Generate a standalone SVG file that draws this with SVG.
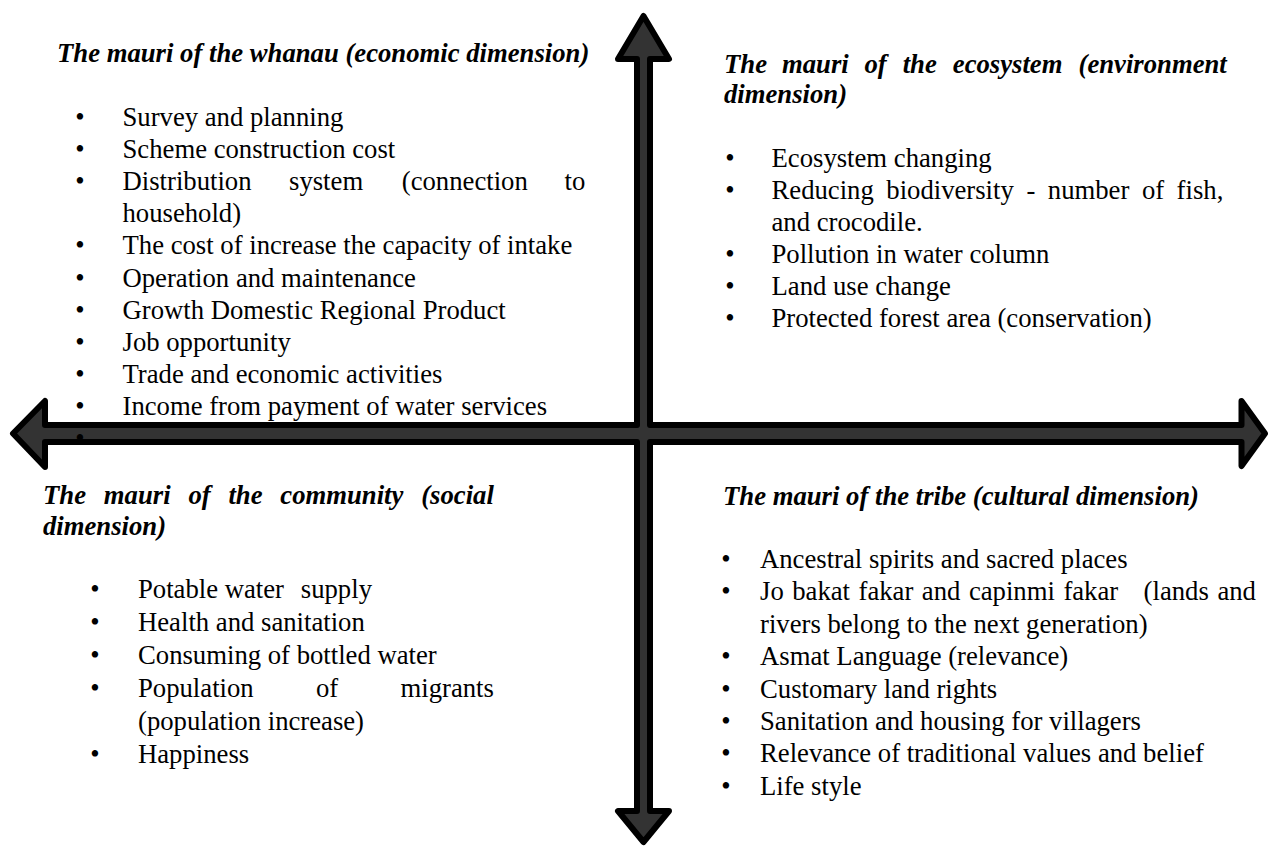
<svg xmlns="http://www.w3.org/2000/svg" width="1269" height="847" viewBox="0 0 1269 847">
  <style>
    .title { font-family: "Liberation Serif", "Times New Roman", serif; font-size: 26.7px; font-weight: bold; font-style: italic; fill: #000; }
    .item { font-family: "Liberation Serif", "Times New Roman", serif; font-size: 26.7px; fill: #000; }
    .dot { font-family: "Liberation Serif", "Times New Roman", serif; font-size: 26.7px; fill: #000; text-anchor: middle; }
    .axis { fill: #333333; stroke: #000; stroke-width: 6; stroke-linejoin: round; }
  </style>
  <rect x="0" y="0" width="1269" height="847" fill="#fff"/>

  <!-- four-way cross of arrows dividing the quadrants -->
  <g id="connectors">
    <path class="axis" d="M 643.5 16 L 669 59 L 650 59 L 650 425 L 1241.5 425 L 1241.5 401 L 1265 433.5 L 1241.5 466 L 1241.5 442 L 650 442 L 650 811 L 669 811 L 643.5 842 L 618 811 L 637 811 L 637 442 L 45 442 L 45 467 L 13 433.5 L 45 401 L 45 425 L 637 425 L 637 59 L 618 59 Z"/>
  </g>

  <!-- top-left: economic dimension -->
  <g id="whanau">
    <text class="title" x="57" y="62">The mauri of the whanau (economic dimension)</text>
    <text class="dot" x="80" y="126">•</text><text class="item" x="122.5" y="126">Survey and planning</text>
    <text class="dot" x="80" y="158.1">•</text><text class="item" x="122.5" y="158.1">Scheme construction cost</text>
    <text class="dot" x="80" y="190.2">•</text><text class="item" y="190.2"><tspan x="122.5">Distribution</tspan><tspan x="289">system</tspan><tspan x="401.8">(connection</tspan><tspan x="564.5">to</tspan></text>
    <text class="item" x="122.5" y="222.3">household)</text>
    <text class="dot" x="80" y="254.4">•</text><text class="item" x="122.5" y="254.4">The cost of increase the capacity of intake</text>
    <text class="dot" x="80" y="286.5">•</text><text class="item" x="122.5" y="286.5">Operation and maintenance</text>
    <text class="dot" x="80" y="318.6">•</text><text class="item" x="122.5" y="318.6">Growth Domestic Regional Product</text>
    <text class="dot" x="80" y="350.7">•</text><text class="item" x="122.5" y="350.7">Job opportunity</text>
    <text class="dot" x="80" y="382.8">•</text><text class="item" x="122.5" y="382.8">Trade and economic activities</text>
    <text class="dot" x="80" y="414.9">•</text><text class="item" x="122.5" y="414.9">Income from payment of water services</text>
    <text class="dot" x="80" y="447">•</text>
  </g>

  <!-- top-right: environment dimension -->
  <g id="ecosystem">
    <text class="title" y="73"><tspan x="724">The</tspan><tspan x="782">mauri</tspan><tspan x="864.5">of</tspan><tspan x="902.7">the</tspan><tspan x="952.8">ecosystem</tspan><tspan x="1078.5">(environment</tspan></text>
    <text class="title" x="724" y="103">dimension)</text>
    <text class="dot" x="730" y="167">•</text><text class="item" x="771.5" y="167">Ecosystem changing</text>
    <text class="dot" x="730" y="199">•</text><text class="item" y="199"><tspan x="771.5">Reducing</tspan><tspan x="886.3">biodiversity</tspan><tspan x="1026.4">-</tspan><tspan x="1047.8">number</tspan><tspan x="1141.9">of</tspan><tspan x="1176.6">fish,</tspan></text>
    <text class="item" x="771.5" y="231">and crocodile.</text>
    <text class="dot" x="730" y="263">•</text><text class="item" x="771.5" y="263">Pollution in water column</text>
    <text class="dot" x="730" y="295">•</text><text class="item" x="771.5" y="295">Land use change</text>
    <text class="dot" x="730" y="327">•</text><text class="item" x="771.5" y="327">Protected forest area (conservation)</text>
  </g>

  <!-- bottom-left: social dimension -->
  <g id="community">
    <text class="title" y="504"><tspan x="43">The</tspan><tspan x="103.8">mauri</tspan><tspan x="188.4">of</tspan><tspan x="228.4">the</tspan><tspan x="280.3">community</tspan><tspan x="421.2">(social</tspan></text>
    <text class="title" x="43" y="535">dimension)</text>
    <text class="dot" x="95" y="598">•</text><text class="item" y="598"><tspan x="138">Potable water</tspan><tspan x="300.8">supply</tspan></text>
    <text class="dot" x="95" y="631">•</text><text class="item" x="138" y="631">Health and sanitation</text>
    <text class="dot" x="95" y="664">•</text><text class="item" x="138" y="664">Consuming of bottled water</text>
    <text class="dot" x="95" y="697">•</text><text class="item" y="697"><tspan x="138">Population</tspan><tspan x="316">of</tspan><tspan x="400.5">migrants</tspan></text>
    <text class="item" x="138" y="730">(population increase)</text>
    <text class="dot" x="95" y="763">•</text><text class="item" x="138" y="763">Happiness</text>
  </g>

  <!-- bottom-right: cultural dimension -->
  <g id="tribe">
    <text class="title" x="723" y="505">The mauri of the tribe (cultural dimension)</text>
    <text class="dot" x="726" y="568">•</text><text class="item" x="760" y="568">Ancestral spirits and sacred places</text>
    <text class="dot" x="726" y="600.4">•</text><text class="item" y="600.4"><tspan x="760">Jo</tspan><tspan x="792.2">bakat</tspan><tspan x="858.5">fakar</tspan><tspan x="921.8">and</tspan><tspan x="968.9">capinmi</tspan><tspan x="1063.4">fakar</tspan><tspan x="1143.6">(lands</tspan><tspan x="1217.4">and</tspan></text>
    <text class="item" x="760" y="632.8">rivers belong to the next generation)</text>
    <text class="dot" x="726" y="665.2">•</text><text class="item" x="760" y="665.2">Asmat Language (relevance)</text>
    <text class="dot" x="726" y="697.6">•</text><text class="item" x="760" y="697.6">Customary land rights</text>
    <text class="dot" x="726" y="730">•</text><text class="item" x="760" y="730">Sanitation and housing for villagers</text>
    <text class="dot" x="726" y="762.4">•</text><text class="item" x="760" y="762.4">Relevance of traditional values and belief</text>
    <text class="dot" x="726" y="794.8">•</text><text class="item" x="760" y="794.8">Life style</text>
  </g>
</svg>
